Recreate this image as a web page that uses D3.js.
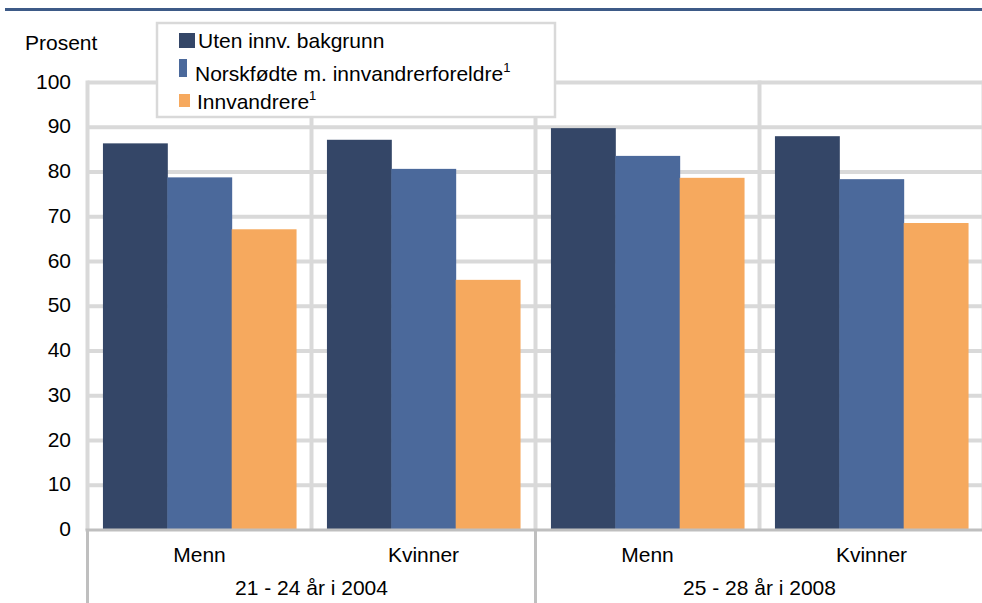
<!DOCTYPE html>
<html>
<head>
<meta charset="utf-8">
<script src="https://cdn.jsdelivr.net/npm/d3@7"></script>
<style>
  body { margin: 0; background: #fff; }
  svg { display: block; font-family: "Liberation Sans", Arial, sans-serif; }
</style>
</head>
<body>
<div id="chart"></div>
<script>
// data
const groups = ["21 - 24 år i 2004", "25 - 28 år i 2008"];
const sexes = ["Menn", "Kvinner"];
const series = ["Uten innv. bakgrunn", "Norskfødte m. innvandrerforeldre", "Innvandrere"];
const seriesSup = ["", "1", "1"];
const uten = [86.4, 87.2, 89.8, 88.0];
const norskfodte = [78.8, 80.7, 83.6, 78.4];
const innvandrere = [67.2, 55.9, 78.7, 68.6];
const yTicks = [0, 10, 20, 30, 40, 50, 60, 70, 80, 90, 100];

const colors = ["#344667", "#4b699b", "#f6a95e"];
const values = [uten, norskfodte, innvandrere];

const W = 982, H = 603;
const plotLeft = 87.5, plotRight = 983.5, plotTop = 82.5, plotBottom = 530;
const fs = 21;

const cats = [];
groups.forEach(g => sexes.forEach(s => cats.push(g + "|" + s)));

const svg = d3.select("#chart").append("svg")
  .attr("width", W).attr("height", H);

// blue rule at the top (title above is cut off)
svg.append("rect").attr("x", 5).attr("y", 8).attr("width", W - 5).attr("height", 3).attr("fill", "#3d5a87");

const x0 = d3.scaleBand().domain(cats).range([plotLeft, plotRight]).padding(0);
const x1 = d3.scaleBand().domain(series).range([0, x0.bandwidth()]).paddingInner(0).paddingOuter(0.24);
const y = d3.scaleLinear().domain([0, 100]).range([plotBottom, plotTop]);

// horizontal gridlines
svg.append("g").selectAll("line").data(yTicks.filter(d => d > 0)).enter().append("line")
  .attr("x1", plotLeft).attr("x2", plotRight)
  .attr("y1", d => y(d)).attr("y2", d => y(d))
  .attr("stroke", "#d9d9d9").attr("stroke-width", 4);

// vertical category lines
const bounds = cats.map(c => x0(c)).concat([plotRight]);
svg.append("g").selectAll("line").data(bounds).enter().append("line")
  .attr("x1", d => d).attr("x2", d => d)
  .attr("y1", plotTop - 2).attr("y2", plotBottom)
  .attr("stroke", "#d9d9d9").attr("stroke-width", 4);

// bars
const catG = svg.append("g").selectAll("g").data(cats).enter().append("g")
  .attr("transform", c => `translate(${x0(c)},0)`);
catG.selectAll("rect").data((c, ci) => series.map((s, si) => ({ s: s, si: si, v: values[si][ci] })))
  .enter().append("rect")
  .attr("x", d => x1(d.s))
  .attr("y", d => y(d.v))
  .attr("width", x1.bandwidth() + 0.5)
  .attr("height", d => y(0) - y(d.v))
  .attr("fill", d => colors[d.si]);

// x axis line
svg.append("line").attr("x1", plotLeft - 2).attr("x2", plotRight).attr("y1", plotBottom).attr("y2", plotBottom)
  .attr("stroke", "#bfbfbf").attr("stroke-width", 3);

// group separators below axis
const gScale = d3.scaleBand().domain(groups).range([plotLeft, plotRight]);
svg.append("g").selectAll("line").data(groups.map(g => gScale(g)).concat([plotRight])).enter().append("line")
  .attr("x1", d => d).attr("x2", d => d)
  .attr("y1", plotBottom).attr("y2", H)
  .attr("stroke", "#bfbfbf").attr("stroke-width", 3);

// category labels
svg.append("g").selectAll("text").data(cats).enter().append("text")
  .attr("x", c => x0(c) + x0.bandwidth() / 2)
  .attr("y", 562)
  .attr("text-anchor", "middle")
  .attr("font-size", fs)
  .text(c => c.split("|")[1]);

svg.append("g").selectAll("text").data(groups).enter().append("text")
  .attr("x", g => gScale(g) + gScale.bandwidth() / 2)
  .attr("y", 595)
  .attr("text-anchor", "middle")
  .attr("font-size", fs)
  .text(g => g);

// y tick labels
svg.append("g").selectAll("text").data(yTicks).enter().append("text")
  .attr("x", 71)
  .attr("y", d => y(d) + 6)
  .attr("text-anchor", "end")
  .attr("font-size", fs)
  .text(d => d);

svg.append("text").attr("x", 25).attr("y", 50).attr("font-size", fs).text("Prosent");

// legend
svg.append("rect").attr("x", 157).attr("y", 23).attr("width", 398).attr("height", 94)
  .attr("fill", "#fff").attr("stroke", "#d9d9d9").attr("stroke-width", 2.5);

const legRows = [
  { mx: 179, my: 33, mw: 16, mh: 15, tx: 198, ty: 48 },
  { mx: 179, my: 59, mw: 8, mh: 18, tx: 195, ty: 81 },
  { mx: 179, my: 94, mw: 11, mh: 13, tx: 197, ty: 109 }
];
series.forEach((s, i) => {
  const r = legRows[i];
  svg.append("rect").attr("x", r.mx).attr("y", r.my).attr("width", r.mw).attr("height", r.mh)
    .attr("fill", colors[i]);
  const t = svg.append("text").attr("x", r.tx).attr("y", r.ty).attr("font-size", fs).text(s);
  if (seriesSup[i]) {
    t.append("tspan").attr("dy", -9).attr("font-size", 13).text(seriesSup[i]);
  }
});
</script>
</body>
</html>
